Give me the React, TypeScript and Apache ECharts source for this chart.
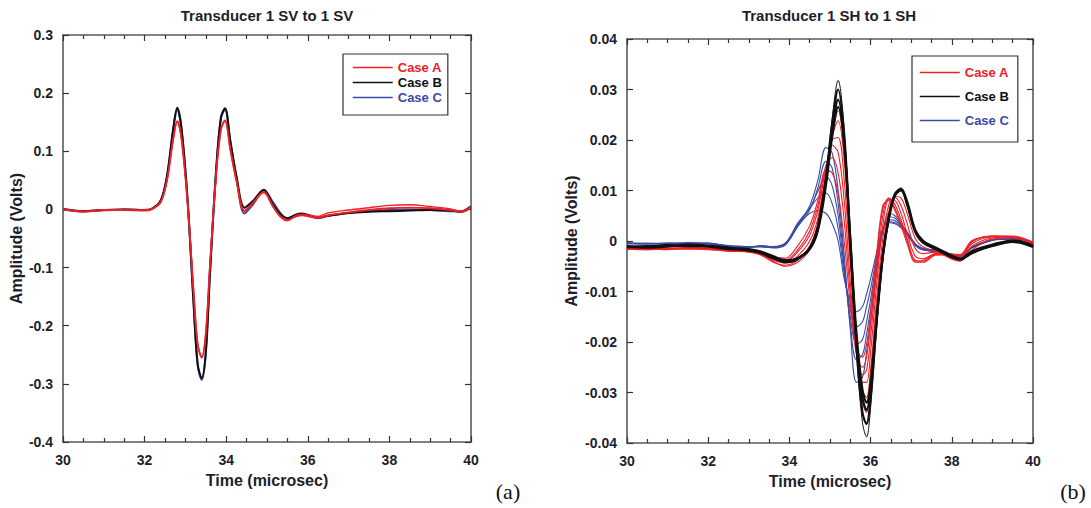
import React, { useEffect, useRef } from "react";
import * as echarts from "echarts";

// ---------- Panel (a): Transducer 1 SV to 1 SV ----------
const timeSV = [30, 30.5, 31, 31.5, 32, 32.2, 32.4, 32.55, 32.7, 32.8, 32.9, 33.05, 33.2, 33.3, 33.4, 33.5, 33.6, 33.75, 33.87, 33.97, 34.1, 34.25, 34.45, 34.65, 34.92, 35.15, 35.35, 35.5, 35.7, 35.85, 36.25, 36.5, 37, 37.5, 38, 38.5, 39, 39.5, 39.75, 40];

const svCaseA1 = [0.000, -0.004, -0.001, -0.001, -0.002, 0.001, 0.013, 0.050, 0.120, 0.152, 0.124, 0.014, -0.140, -0.232, -0.255, -0.214, -0.098, 0.056, 0.137, 0.153, 0.104, 0.050, -0.002, 0.011, 0.030, 0.005, -0.014, -0.019, -0.012, -0.010, -0.015, -0.010, -0.005, -0.001, 0.002, 0.003, 0.002, -0.001, -0.004, 0.003];
const svCaseA2 = [0.001, -0.003, -0.002, -0.001, -0.001, 0.002, 0.014, 0.051, 0.121, 0.151, 0.123, 0.015, -0.139, -0.230, -0.253, -0.212, -0.097, 0.057, 0.138, 0.152, 0.103, 0.049, -0.003, 0.010, 0.029, 0.004, -0.013, -0.018, -0.011, -0.008, -0.012, -0.006, -0.001, 0.003, 0.007, 0.008, 0.005, 0.001, -0.003, 0.004];
const svCaseB = [0.000, -0.003, -0.001, 0.000, -0.001, 0.002, 0.016, 0.058, 0.138, 0.175, 0.142, 0.020, -0.160, -0.265, -0.290, -0.245, -0.112, 0.065, 0.158, 0.174, 0.118, 0.058, 0.003, 0.014, 0.034, 0.008, -0.010, -0.015, -0.009, -0.007, -0.014, -0.011, -0.006, -0.004, -0.003, -0.002, -0.001, -0.002, -0.004, 0.004];
const svCaseC = [0.001, -0.003, -0.001, 0.000, -0.001, 0.002, 0.016, 0.057, 0.136, 0.172, 0.141, 0.019, -0.162, -0.268, -0.293, -0.248, -0.114, 0.063, 0.156, 0.172, 0.118, 0.055, -0.007, 0.008, 0.033, 0.012, -0.008, -0.015, -0.012, -0.009, -0.015, -0.011, -0.006, -0.003, -0.001, 0.000, -0.001, -0.003, -0.003, 0.006];

// ---------- Panel (b): Transducer 1 SH to 1 SH ----------
const timeSH = [30, 30.5, 31, 31.5, 32, 32.5, 33, 33.3, 33.6, 33.9, 34.2, 34.5, 34.7, 34.9, 35.05, 35.2, 35.35, 35.5, 35.65, 35.8, 35.9, 36.0, 36.15, 36.3, 36.45, 36.6, 36.75, 36.9, 37.1, 37.3, 37.6, 38.0, 38.2, 38.5, 39, 39.5, 40];

const shCaseA1 = [-0.0014, -0.0016, -0.0015, -0.0013, -0.0015, -0.0019, -0.0020, -0.0026, -0.0040, -0.0050, -0.0042, -0.0018, 0.0025, 0.0115, 0.0205, 0.0258, 0.0180, -0.0010, -0.0200, -0.0318, -0.0340, -0.0285, -0.0140, -0.0015, 0.0060, 0.0088, 0.0085, 0.0055, 0.0005, -0.0012, -0.0020, -0.0036, -0.0040, -0.0018, 0.0004, 0.0006, -0.0008];
const shCaseA2 = [-0.0016, -0.0015, -0.0017, -0.0014, -0.0016, -0.0020, -0.0021, -0.0028, -0.0042, -0.0048, -0.0038, -0.0010, 0.0035, 0.0125, 0.0205, 0.0238, 0.0160, -0.0020, -0.0200, -0.0295, -0.0310, -0.0255, -0.0115, 0.0005, 0.0072, 0.0086, 0.0070, 0.0035, -0.0015, -0.0025, -0.0022, -0.0034, -0.0038, -0.0010, 0.0006, 0.0008, -0.0006];
const shCaseA3 = [-0.0015, -0.0017, -0.0016, -0.0015, -0.0014, -0.0018, -0.0022, -0.0027, -0.0038, -0.0044, -0.0030, 0.0000, 0.0045, 0.0135, 0.0200, 0.0205, 0.0120, -0.0045, -0.0210, -0.0280, -0.0280, -0.0220, -0.0085, 0.0030, 0.0082, 0.0080, 0.0055, 0.0015, -0.0030, -0.0035, -0.0025, -0.0030, -0.0032, -0.0005, 0.0008, 0.0007, -0.0005];
const shCaseA4 = [-0.0017, -0.0015, -0.0014, -0.0016, -0.0017, -0.0020, -0.0019, -0.0025, -0.0036, -0.0040, -0.0022, 0.0012, 0.0060, 0.0145, 0.0190, 0.0175, 0.0080, -0.0080, -0.0220, -0.0265, -0.0255, -0.0190, -0.0060, 0.0050, 0.0085, 0.0072, 0.0042, 0.0005, -0.0038, -0.0040, -0.0026, -0.0028, -0.0030, -0.0002, 0.0010, 0.0008, -0.0004];
const shCaseA5 = [-0.0013, -0.0014, -0.0016, -0.0015, -0.0015, -0.0018, -0.0021, -0.0026, -0.0035, -0.0038, -0.0018, 0.0020, 0.0070, 0.0150, 0.0165, 0.0135, 0.0040, -0.0105, -0.0225, -0.0250, -0.0230, -0.0165, -0.0040, 0.0065, 0.0084, 0.0065, 0.0035, 0.0000, -0.0042, -0.0042, -0.0028, -0.0027, -0.0028, 0.0000, 0.0010, 0.0009, -0.0003];
const shCaseA6 = [-0.0016, -0.0017, -0.0015, -0.0013, -0.0016, -0.0019, -0.0020, -0.0024, -0.0032, -0.0034, -0.0010, 0.0030, 0.0080, 0.0140, 0.0135, 0.0095, 0.0000, -0.0125, -0.0215, -0.0230, -0.0205, -0.0140, -0.0025, 0.0070, 0.0080, 0.0060, 0.0030, -0.0005, -0.0040, -0.0038, -0.0026, -0.0026, -0.0027, 0.0001, 0.0009, 0.0010, -0.0002];

const shCaseB1 = [-0.0010, -0.0012, -0.0010, -0.0008, -0.0009, -0.0015, -0.0018, -0.0022, -0.0032, -0.0040, -0.0033, -0.0012, 0.0030, 0.0130, 0.0240, 0.0318, 0.0220, 0.0000, -0.0220, -0.0360, -0.0388, -0.0330, -0.0170, -0.0030, 0.0050, 0.0095, 0.0105, 0.0075, 0.0020, -0.0002, -0.0014, -0.0030, -0.0036, -0.0022, -0.0008, 0.0000, -0.0010];
const shCaseB2 = [-0.0011, -0.0010, -0.0009, -0.0010, -0.0011, -0.0016, -0.0017, -0.0024, -0.0034, -0.0041, -0.0035, -0.0015, 0.0025, 0.0120, 0.0215, 0.0280, 0.0195, -0.0005, -0.0195, -0.0310, -0.0335, -0.0290, -0.0155, -0.0030, 0.0045, 0.0090, 0.0100, 0.0072, 0.0018, -0.0004, -0.0015, -0.0032, -0.0037, -0.0024, -0.0009, -0.0001, -0.0011];
const shCaseB3 = [-0.0012, -0.0011, -0.0008, -0.0009, -0.0010, -0.0014, -0.0016, -0.0021, -0.0030, -0.0038, -0.0034, -0.0016, 0.0020, 0.0110, 0.0205, 0.0265, 0.0190, 0.0005, -0.0180, -0.0295, -0.0320, -0.0280, -0.0150, -0.0028, 0.0048, 0.0092, 0.0103, 0.0078, 0.0022, 0.0000, -0.0013, -0.0029, -0.0035, -0.0020, -0.0007, 0.0001, -0.0009];
const shCaseB4 = [-0.0010, -0.0013, -0.0011, -0.0007, -0.0009, -0.0013, -0.0019, -0.0023, -0.0033, -0.0042, -0.0036, -0.0014, 0.0028, 0.0125, 0.0230, 0.0300, 0.0210, 0.0002, -0.0205, -0.0340, -0.0362, -0.0310, -0.0160, -0.0032, 0.0046, 0.0093, 0.0102, 0.0074, 0.0019, -0.0003, -0.0016, -0.0031, -0.0036, -0.0023, -0.0010, -0.0002, -0.0012];

const shCaseC1 = [-0.0004, -0.0006, -0.0005, -0.0003, -0.0004, -0.0010, -0.0012, -0.0010, -0.0012, -0.0005, 0.0030, 0.0070, 0.0120, 0.0185, 0.0175, 0.0100, -0.0030, -0.0175, -0.0280, -0.0270, -0.0220, -0.0160, -0.0060, 0.0020, 0.0055, 0.0050, 0.0035, 0.0018, -0.0005, -0.0015, -0.0018, -0.0026, -0.0030, -0.0012, 0.0003, 0.0004, -0.0005];
const shCaseC2 = [-0.0006, -0.0005, -0.0004, -0.0005, -0.0006, -0.0011, -0.0013, -0.0011, -0.0014, -0.0008, 0.0028, 0.0062, 0.0105, 0.0158, 0.0145, 0.0075, -0.0045, -0.0165, -0.0235, -0.0225, -0.0185, -0.0135, -0.0050, 0.0018, 0.0048, 0.0045, 0.0032, 0.0016, -0.0006, -0.0016, -0.0019, -0.0027, -0.0031, -0.0013, 0.0002, 0.0005, -0.0004];
const shCaseC3 = [-0.0005, -0.0004, -0.0006, -0.0004, -0.0005, -0.0009, -0.0011, -0.0012, -0.0013, -0.0006, 0.0032, 0.0065, 0.0098, 0.0128, 0.0110, 0.0050, -0.0055, -0.0150, -0.0205, -0.0195, -0.0160, -0.0115, -0.0040, 0.0020, 0.0042, 0.0040, 0.0030, 0.0015, -0.0008, -0.0017, -0.0020, -0.0028, -0.0031, -0.0014, 0.0001, 0.0004, -0.0003];
const shCaseC4 = [-0.0003, -0.0005, -0.0005, -0.0006, -0.0004, -0.0010, -0.0012, -0.0009, -0.0011, -0.0004, 0.0035, 0.0065, 0.0085, 0.0095, 0.0075, 0.0025, -0.0065, -0.0135, -0.0170, -0.0160, -0.0130, -0.0095, -0.0030, 0.0022, 0.0038, 0.0036, 0.0028, 0.0014, -0.0008, -0.0018, -0.0020, -0.0027, -0.0030, -0.0013, 0.0002, 0.0005, -0.0004];
const shCaseC5 = [-0.0005, -0.0006, -0.0004, -0.0005, -0.0005, -0.0011, -0.0012, -0.0011, -0.0012, -0.0006, 0.0030, 0.0055, 0.0060, 0.0055, 0.0035, 0.0000, -0.0075, -0.0120, -0.0140, -0.0130, -0.0105, -0.0075, -0.0022, 0.0024, 0.0036, 0.0034, 0.0026, 0.0012, -0.0009, -0.0018, -0.0021, -0.0028, -0.0030, -0.0012, 0.0002, 0.0004, -0.0004];

const caseNames = ["Case A", "Case B", "Case C"];
const titles = ["Transducer 1 SV to 1 SV", "Transducer 1 SH to 1 SH"];
const panelTags = ["(a)", "(b)"];

const RED = "#ec2027";
const BLACK = "#101010";
const BLUE = "#3a4aa6";
const FONT = "'Liberation Sans', Arial, sans-serif";
const TEXT = "#1e1e2a";

function line(name: string, xs: number[], ys: number[], color: string, width: number, idx: number) {
  return {
    type: "line",
    name,
    data: xs.map((x, i) => [x, ys[i]]),
    xAxisIndex: idx,
    yAxisIndex: idx,
    symbol: "none",
    smooth: 0.35,
    silent: true,
    lineStyle: { color, width },
    itemStyle: { color },
  };
}

function xAxis(grid: number, pos: "bottom" | "top") {
  const main = pos === "bottom";
  return {
    type: "value",
    gridIndex: grid,
    position: pos,
    min: 30,
    max: 40,
    interval: 2,
    axisLine: { show: true, onZero: false, lineStyle: { color: "#5a5a5a", width: 1.6 } },
    axisTick: { show: true, inside: true, length: 6, lineStyle: { color: "#333", width: 1.2 } },
    minorTick: { show: true, splitNumber: 4, length: 4, lineStyle: { color: "#333", width: 1.2 } },
    splitLine: { show: false },
    axisLabel: { show: main, margin: 11, color: TEXT, fontWeight: "bold", fontSize: 14, fontFamily: FONT },
    name: main ? "Time (microsec)" : "",
    nameLocation: "middle",
    nameGap: 30,
    nameTextStyle: { color: TEXT, fontWeight: "bold", fontSize: 16, fontFamily: FONT },
  };
}

function yAxis(grid: number, pos: "left" | "right", min: number, max: number, interval: number, gap: number, margin: number) {
  const main = pos === "left";
  return {
    type: "value",
    gridIndex: grid,
    position: pos,
    min,
    max,
    interval,
    axisLine: { show: true, onZero: false, lineStyle: { color: "#5a5a5a", width: 1.6 } },
    axisTick: { show: true, inside: true, length: 6, lineStyle: { color: "#333", width: 1.2 } },
    splitLine: { show: false },
    axisLabel: { show: main, margin, color: TEXT, fontWeight: "bold", fontSize: 14, fontFamily: FONT },
    name: main ? "Amplitude (Volts)" : "",
    nameLocation: "middle",
    nameGap: gap,
    nameTextStyle: { color: TEXT, fontWeight: "bold", fontSize: 16, fontFamily: FONT },
  };
}

function legend(left: number, top: number, gap: number, padding: number[]) {
  const colors = [RED, BLACK, BLUE];
  return {
    show: true,
    orient: "vertical",
    left,
    top,
    itemWidth: 40,
    itemHeight: 14,
    itemGap: gap,
    padding,
    borderColor: "#333",
    borderWidth: 1.2,
    backgroundColor: "#fff",
    selectedMode: false,
    itemStyle: { opacity: 0 },
    lineStyle: { width: 1.5 },
    data: caseNames.map((n, i) => ({ name: n, textStyle: { color: colors[i] } })),
    textStyle: { fontSize: 13, fontWeight: "bold", fontFamily: FONT },
  };
}

export default function App() {
  const ref = useRef<HTMLDivElement>(null);
  useEffect(() => {
    if (!ref.current) return;
    document.body.style.margin = "0";
    const chart = echarts.init(ref.current, undefined, { renderer: "svg" });

    const series: any[] = [
      // panel (a)
      line(caseNames[2], timeSV, svCaseC, BLUE, 2, 0),
      line(caseNames[1], timeSV, svCaseB, BLACK, 2, 0),
      line(caseNames[0], timeSV, svCaseA2, RED, 1.4, 0),
      line(caseNames[0], timeSV, svCaseA1, RED, 1.8, 0),
      // panel (b)
      ...[shCaseC1, shCaseC2, shCaseC3, shCaseC4, shCaseC5].map((d) => line(caseNames[2], timeSH, d, BLUE, 1.1, 2)),
      ...[shCaseA1, shCaseA2, shCaseA3, shCaseA4, shCaseA5, shCaseA6].map((d) => line(caseNames[0], timeSH, d, RED, 1.1, 2)),
      line(caseNames[1], timeSH, shCaseB1, BLACK, 1, 2),
      ...[shCaseB2, shCaseB3, shCaseB4].map((d) => line(caseNames[1], timeSH, d, BLACK, 2.2, 2)),
    ];

    const titleStyle = { fill: TEXT, font: `bold 15px ${FONT}` };

    chart.setOption({
      animation: false,
      backgroundColor: "#fff",
      grid: [
        { left: 63, top: 35, width: 408, height: 407, containLabel: false },
        { left: 627, top: 39, width: 406, height: 404, containLabel: false },
      ],
      xAxis: [xAxis(0, "bottom"), xAxis(0, "top"), xAxis(1, "bottom"), xAxis(1, "top")],
      yAxis: [
        yAxis(0, "left", -0.4, 0.3, 0.1, 38, 10),
        yAxis(0, "right", -0.4, 0.3, 0.1, 38, 10),
        yAxis(1, "left", -0.04, 0.04, 0.01, 48, 10),
        yAxis(1, "right", -0.04, 0.04, 0.01, 48, 10),
      ],
      legend: [legend(343, 54, 2, [7, 6, 11, 9]), legend(912, 56, 11, [10, 9, 15, 7])],
      series,
      graphic: [
        { type: "text", x: 267, y: 15, style: { ...titleStyle, text: titles[0], align: "center", verticalAlign: "middle", textAlign: "center", textVerticalAlign: "middle" } },
        { type: "text", x: 829, y: 15, style: { ...titleStyle, text: titles[1], align: "center", verticalAlign: "middle", textAlign: "center", textVerticalAlign: "middle" } },
        { type: "text", x: 508, y: 491, style: { text: panelTags[0], fill: "#111", font: "22px 'Liberation Serif', 'DejaVu Serif', serif", align: "center", verticalAlign: "middle", textAlign: "center", textVerticalAlign: "middle" } },
        { type: "text", x: 1073, y: 491, style: { text: panelTags[1], fill: "#111", font: "22px 'Liberation Serif', 'DejaVu Serif', serif", align: "center", verticalAlign: "middle", textAlign: "center", textVerticalAlign: "middle" } },
      ],
    });
    return () => chart.dispose();
  }, []);
  return <div ref={ref} style={{ width: 1091, height: 508, position: "absolute", left: 0, top: 0 }} />;
}
